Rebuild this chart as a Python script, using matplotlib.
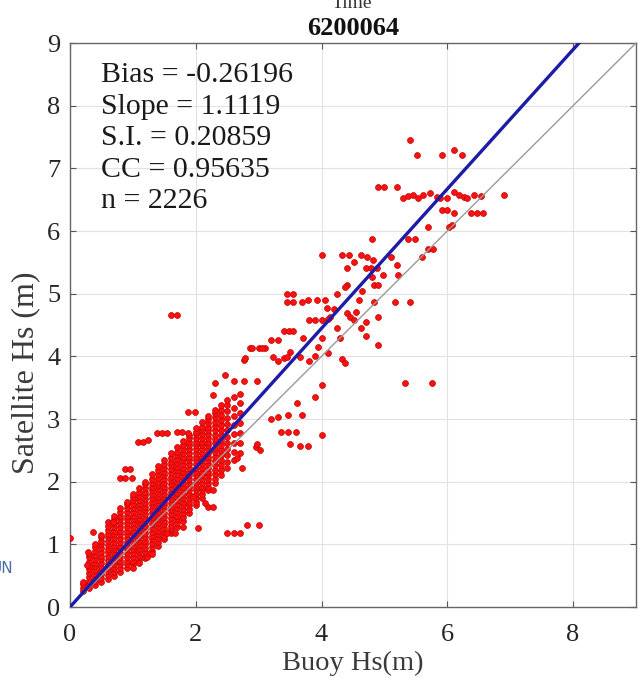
import matplotlib
matplotlib.use("Agg")
import matplotlib.pyplot as plt
import numpy as np

plt.rcParams['font.family'] = ['Liberation Serif', 'DejaVu Serif']

# ---- data ----
station = "6200064"
stats_lines = ["Bias = -0.26196", "Slope = 1.1119", "S.I. = 0.20859", "CC = 0.95635", "n = 2226"]
fit_slope = 1.1119
x_ticks = [0, 2, 4, 6, 8]
y_ticks = [0, 1, 2, 3, 4, 5, 6, 7, 8, 9]

# dense core: buoy Hs column -> satellite Hs values (cm)
core_columns = {
    0.2: "25 31 37 40",
    0.3: "30 36 42 48 54 60 66 72 79 85",
    0.4: "35 41 47 53 59 65 71 77 83 89 95 100",
    0.5: "40 46 52 58 64 70 76 82 88 94 100 106 112 115",
    0.6: "45 51 57 63 69 75 81 87 93 99 105 111 117 123 130",
    0.7: "50 56 62 68 74 80 86 92 98 104 110 116 122 128 134 140 145",
    0.8: "56 62 68 74 80 86 92 98 104 110 116 122 128 134 140 146 152 158",
    0.9: "62 68 74 80 86 92 98 104 110 116 122 128 134 140 146 152 158 164 168",
    1.0: "68 74 80 86 92 98 104 110 116 122 128 134 140 146 152 158 164 170 176 180",
    1.1: "75 81 87 93 99 105 111 117 123 129 135 141 147 153 159 165 171 177 183 190",
    1.2: "82 88 94 100 106 112 118 124 130 136 142 148 154 160 166 172 178 184 190 196 200",
    1.3: "90 96 102 108 114 120 126 132 138 144 150 156 162 168 174 180 186 192 198 204 212",
    1.4: "98 104 110 116 122 128 134 140 146 152 158 164 170 176 182 188 194 200 206 212 218 225",
    1.5: "108 114 120 126 132 138 144 150 156 162 168 174 180 186 192 198 204 210 216 222 228 235",
    1.6: "118 124 130 136 142 148 154 160 166 172 178 184 190 196 202 208 214 220 226 232 238 245",
    1.7: "128 134 140 146 152 158 164 170 176 182 188 194 200 206 212 218 224 230 236 242 248 255",
    1.8: "138 144 150 156 162 168 174 180 186 192 198 204 210 216 222 228 234 240 246 252 258 265",
    1.9: "150 156 162 168 174 180 186 192 198 204 210 216 222 228 234 240 246 252 258 264 270 275",
    2.0: "162 168 174 180 186 192 198 204 210 216 222 228 234 240 246 252 258 264 270 276 280 285",
    2.1: "174 180 186 192 198 204 210 216 222 228 234 240 246 252 258 264 270 276 282 288 295",
    2.2: "186 192 198 204 210 216 222 228 234 240 246 252 258 264 270 276 282 288 294 300 305",
    2.3: "198 205 212 219 226 233 240 247 254 261 268 275 282 289 296 303 310 315",
    2.4: "210 218 226 234 242 250 258 266 274 282 290 298 306 314 322",
    2.5: "222 232 242 252 262 272 282 292 302 312 322 330",
    2.6: "234 248 262 276 290 304 318 335",
    2.7: "246 262 278 294 310 326 340",
}

# scattered points (buoy Hs, satellite Hs)
scatter_buoy = [
    0.00, 0.37, 0.60, 0.69, 0.80, 0.88, 0.99, 0.88, 0.96, 1.08, 1.16, 1.24, 1.38, 1.46, 1.54,
    1.70, 1.78, 1.88, 1.88, 1.99, 2.28, 2.31, 1.60, 1.70, 0.29, 0.27, 1.19,
    1.23, 1.27, 1.55, 1.67, 1.80, 2.04, 2.20, 2.28, 2.50, 2.60, 2.70, 2.82, 3.00, 1.96, 2.15,
    2.28, 2.66, 2.74, 2.95, 3.02, 1.00, 1.10, 1.30,
    2.47, 2.60, 2.76, 2.98, 2.76, 2.87, 3.00, 3.10, 3.20, 3.30, 3.40, 3.48, 3.55, 3.30, 3.40,
    3.50, 3.80, 3.90, 4.10, 4.33, 4.38, 4.01, 3.90, 3.61, 3.47, 3.69, 3.20, 3.30, 3.35, 3.47,
    3.60, 4.00, 3.50, 3.65, 3.78, 2.97, 3.23, 3.45, 3.66, 2.79, 2.90, 3.06,
    3.45, 3.45, 3.55, 3.55, 3.69, 3.79, 3.93, 4.06, 4.09, 4.14, 4.41, 4.46, 4.51, 3.80, 3.90,
    4.00, 4.10, 3.70, 4.00, 3.95,
    4.01, 4.33, 4.43, 4.62, 4.73, 4.82, 4.41, 4.51, 4.98, 4.81, 4.41, 4.83, 4.89, 4.70, 4.78,
    4.88, 5.20, 5.22, 5.10, 4.38, 4.83, 5.17, 5.40, 4.90, 4.62, 4.70, 4.90, 4.25, 4.30, 4.55,
    4.60, 4.25, 4.20, 4.65, 4.70,
    5.40, 5.51, 5.92, 6.11, 6.23, 4.90, 5.00, 5.20, 5.30, 5.38, 5.46, 5.54, 5.62, 5.72, 5.83,
    5.89, 6.00, 6.10, 6.18, 6.26, 6.32, 6.42, 6.53, 6.90, 5.92, 6.00, 6.10, 6.37, 6.47, 6.56,
    5.70, 6.02, 6.08, 4.81, 5.38, 5.49, 5.70, 5.78, 5.60, 5.32, 5.76,
]
scatter_sat = [
    1.10, 1.20, 1.36, 1.36, 2.06, 2.06, 2.06, 2.20, 2.20, 2.64, 2.64, 2.66, 2.77, 2.77, 2.77,
    2.79, 2.79, 2.77, 3.11, 3.11, 3.38, 3.57, 4.66, 4.66, 0.88, 0.67, 0.78,
    0.80, 0.86, 1.18, 1.18, 1.28, 1.26, 1.60, 1.60, 1.18, 1.18, 1.18, 1.31, 1.31, 1.75, 1.66,
    1.87, 2.38, 2.22, 2.55, 2.50, 0.62, 0.70, 0.85,
    3.70, 3.60, 3.60, 3.60, 3.94, 4.13, 4.13, 4.13, 4.26, 4.26, 4.41, 4.41, 4.41, 3.92, 3.98,
    4.07, 3.92, 4.00, 4.05, 3.95, 3.90, 3.54, 3.35, 3.25, 3.06, 3.06, 3.00, 3.03, 2.80, 2.80,
    2.80, 2.74, 2.60, 2.57, 2.57, 2.60, 3.99, 3.99, 3.99, 3.97, 4.13, 4.13,
    5.00, 4.86, 5.00, 4.86, 4.86, 4.90, 4.90, 4.90, 4.77, 4.63, 4.69, 4.63, 4.58, 4.58, 4.58,
    4.58, 4.60, 4.30, 4.30, 4.15,
    5.61, 5.61, 5.61, 5.61, 5.58, 5.53, 5.41, 5.50, 5.29, 5.26, 5.14, 5.14, 5.14, 5.41, 5.41,
    5.41, 5.45, 5.30, 5.58, 5.10, 4.86, 4.86, 4.86, 4.63, 4.45, 4.33, 4.18, 4.45, 4.30, 4.70,
    4.90, 5.00, 4.75, 5.05, 4.55,
    7.46, 7.21, 7.21, 7.30, 7.21, 6.70, 6.70, 6.70, 6.52, 6.56, 6.58, 6.52, 6.58, 6.60, 6.55,
    6.52, 6.52, 6.62, 6.58, 6.55, 6.52, 6.58, 6.56, 6.57, 6.33, 6.33, 6.28, 6.28, 6.28, 6.28,
    6.07, 6.07, 6.10, 5.88, 5.88, 5.88, 5.72, 5.72, 5.58, 3.57, 3.57,
]

# ---- assemble ----
core_x, core_y = [], []
for bx, vals in core_columns.items():
    for v in vals.split():
        core_x.append(bx)
        core_y.append(int(v) / 100.0)
buoy = np.array(core_x + scatter_buoy)
sat = np.array(core_y + scatter_sat)

W, H = 638, 682
fig = plt.figure(figsize=(W / 100, H / 100), dpi=100)
ax = fig.add_axes([70 / W, 75 / H, 566 / W, 564 / H])

ax.scatter(buoy, sat, s=18, c='#ff1010', edgecolors='#c00000', linewidths=0.5, zorder=3, clip_on=True)
ax.plot([0, 9], [0, 9], color='#9a9a9a', lw=1.0, zorder=4)
ax.plot([0, 9 / fit_slope], [0, 9], color='#1c1ca8', lw=2.4, zorder=5)

ax.set_xlim(0, 9)
ax.set_ylim(0, 9)
ax.set_xticks(x_ticks)
ax.set_yticks(y_ticks)
ax.grid(True, color='#e2e2e2', lw=0.8, zorder=0)
ax.set_axisbelow(True)
ax.tick_params(direction='in', length=4, width=0.8, colors='#555555', labelcolor='#262626',
               labelsize=19, top=True, right=True)
ax.tick_params(axis='x', pad=12)
ax.tick_params(axis='y', pad=7)
for sp in ax.spines.values():
    sp.set_color('#666666')
    sp.set_linewidth(1.0)

ax.set_xlabel('Buoy Hs(m)', fontsize=20.5, color='#3a3a3a', labelpad=4)
ax.set_ylabel('Satellite Hs (m)', fontsize=23, color='#3a3a3a')
ax.yaxis.set_label_coords(-0.052, (607 - 373) / 564)
ax.set_title(station, fontsize=19, fontweight='bold', color='#111111', pad=6)

ax.text(31 / 566, (607 - 62) / 564, "\n".join(stats_lines), transform=ax.transAxes,
        ha='left', va='top', fontsize=21.5, color='#1a1a1a', linespacing=1.28, zorder=6)

fig.text(352 / W, 1 - 8 / H, 'Time', ha='center', va='baseline', fontsize=14, color='#333333')
fig.text(13 / W, 1 - 573 / H, 'UN', ha='right', va='baseline', fontsize=11,
         color='#4a70a8', family='DejaVu Sans')

fig.savefig('out.png', dpi=100)
